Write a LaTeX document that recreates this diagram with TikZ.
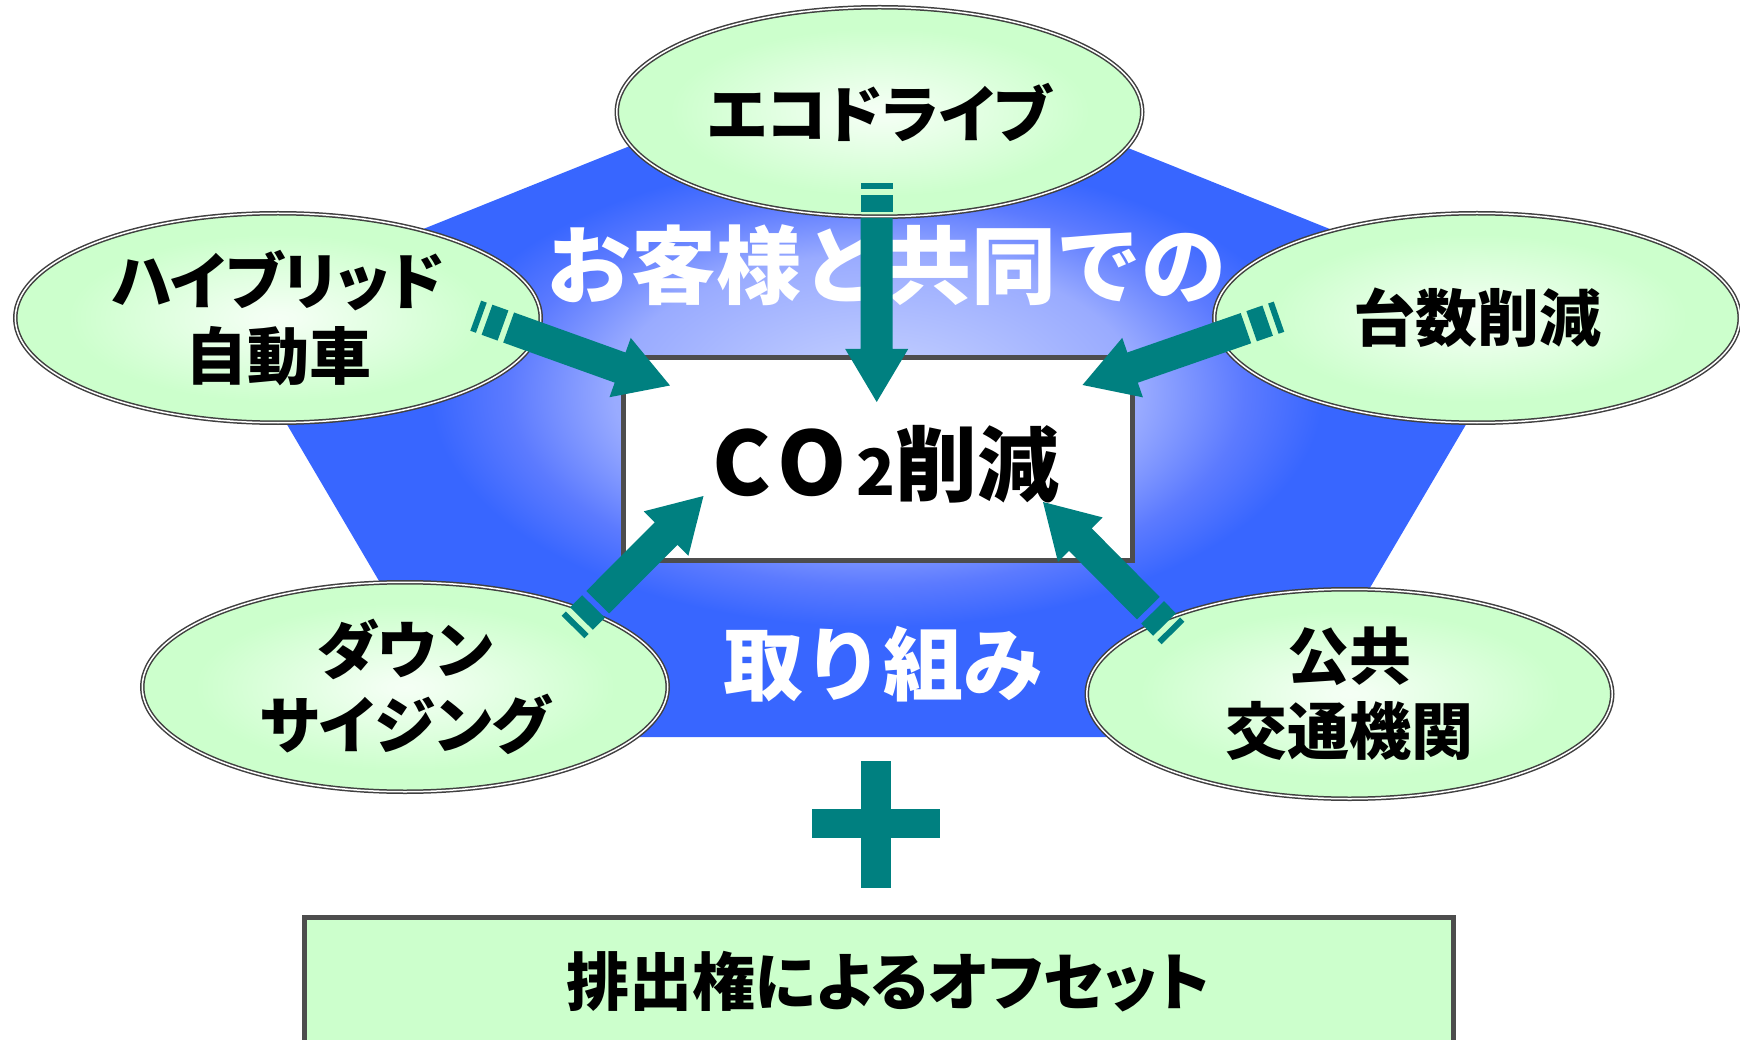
\documentclass[tikz,border=0pt]{standalone}
\usepackage{fontspec}
\usetikzlibrary{calc,shapes.geometric}
\newfontfamily\jp{Noto Sans CJK JP}
\newfontfamily\jpp{Noto Sans CJK JP}[RawFeature=+palt]
\definecolor{arrowteal}{RGB}{0,128,128}
\definecolor{bordergray}{RGB}{64,64,64}
\definecolor{boxgray}{RGB}{77,77,77}
\definecolor{lightgreen}{RGB}{204,255,204}
\pgfdeclareradialshading{pentshade}{\pgfpoint{0bp}{0bp}}{rgb(0bp)=(0.76,0.81,1); rgb(2.5bp)=(0.74,0.79,1); rgb(10bp)=(0.6,0.67,1); rgb(14bp)=(0.36,0.48,1); rgb(17bp)=(0.22,0.40,1); rgb(50bp)=(0.22,0.40,1)}
\pgfdeclareradialshading{ellshade}{\pgfpoint{0bp}{0bp}}{rgb(0bp)=(0.96,1,0.96); rgb(2bp)=(0.95,1,0.95); rgb(20bp)=(0.8,1,0.8); rgb(50bp)=(0.8,1,0.8)}
\tikzset{
  bubble/.style={ellipse, minimum width=525.5pt, minimum height=209.5pt, inner sep=0pt,
    shade, shading=ellshade, draw=bordergray, line width=1.5pt, double=white, double distance=1.5pt,
    align=center, font=\jpp\bfseries\fontsize{62}{75}\selectfont},
  whitetext/.style={text=white, inner sep=0pt},
  darkbox/.style={draw=boxgray, line width=5pt, inner sep=0pt}
}
\newcommand{\stripedarrow}[2]{%
  \path let \p1=($(#2)-(#1)$) in \pgfextra{%
    \pgfmathsetmacro{\tmpang}{atan2(\y1,\x1)}%
    \pgfmathsetmacro{\tmplen}{veclen(\x1,\y1)}%
    \xdef\arrang{\tmpang}\xdef\arrlen{\tmplen}};
  \begin{scope}[shift={(#1)}, rotate=\arrang]
    \fill[arrowteal] (0,-16) rectangle (6,16);
    \fill[arrowteal] (12,-16) rectangle (29,16);
    \fill[arrowteal] (35,-16) -- ({\arrlen-53},-16) -- ({\arrlen-53},-31.5) -- (\arrlen,0)
      -- ({\arrlen-53},31.5) -- ({\arrlen-53},16) -- (35,16) -- cycle;
  \end{scope}
}
\begin{document}
\begin{tikzpicture}[x=1pt,y=-1pt]
\useasboundingbox (0,0) rectangle (1740,1040);
\clip (0,0) rectangle (1740,1040);
% pentagon background
\shade[shading=pentshade] (876.5,47) -- (1533,310.6) -- (1282.2,737) -- (470.8,737) -- (220,310.6) -- cycle;
% central box
\node[darkbox, fill=white, minimum width=509pt, minimum height=203pt] (co2) at (878,459) {};
\node[inner sep=0pt, font=\jp\bfseries] (co2txt) at (886,464)
  {{\fontsize{88}{88}\selectfont C\kern6pt O\kern10pt}{\fontsize{64}{64}\selectfont 2}{\fontsize{82}{82}\selectfont 削減}};
% bubbles
\node[bubble] (eco) at (879.5,112) {エコドライブ};
\node[bubble] (hyb) at (278,318) {ハイブリッド\\自動車};
\node[bubble] (dai) at (1477,318) {台数削減};
\node[bubble] (down) at (405,687) {ダウン\\サイジング};
\node[bubble] (pub) at (1349.5,694) {公共\\交通機関};
% white texts
\node[whitetext, font=\jp\bfseries\fontsize{85}{85}\selectfont] (w1) at (886,265) {お客様と共同での};
\node[whitetext, font=\jp\bfseries\fontsize{80}{80}\selectfont] (w2) at (883,664) {取り組み};
% arrows
\coordinate (ecoT) at (876.7,183);  \coordinate (ecoH) at (876.7,402);
\coordinate (hybT) at (475.7,315.7); \coordinate (hybH) at (670,385.5);
\coordinate (daiT) at (1279,316.7); \coordinate (daiH) at (1082.5,385);
\coordinate (downT) at (573,627);  \coordinate (downH) at (703.5,496);
\coordinate (pubT) at (1173,633);  \coordinate (pubH) at (1043,502);
\stripedarrow{ecoT}{ecoH}
\stripedarrow{hybT}{hybH}
\stripedarrow{daiT}{daiH}
\stripedarrow{downT}{downH}
\stripedarrow{pubT}{pubH}
% plus sign
\fill[arrowteal] (861,761) rectangle (891,888);
\fill[arrowteal] (812,809) rectangle (940,838);
% bottom box
\node[darkbox, fill=lightgreen, minimum width=1149pt, minimum height=200pt, anchor=north] (offset) at (878.5,914.5) {};
\node[inner sep=0pt, font=\jpp\bfseries\fontsize{63}{63}\selectfont] (offtxt) at (888,982) {排出権によるオフセット};
\end{tikzpicture}
\end{document}
